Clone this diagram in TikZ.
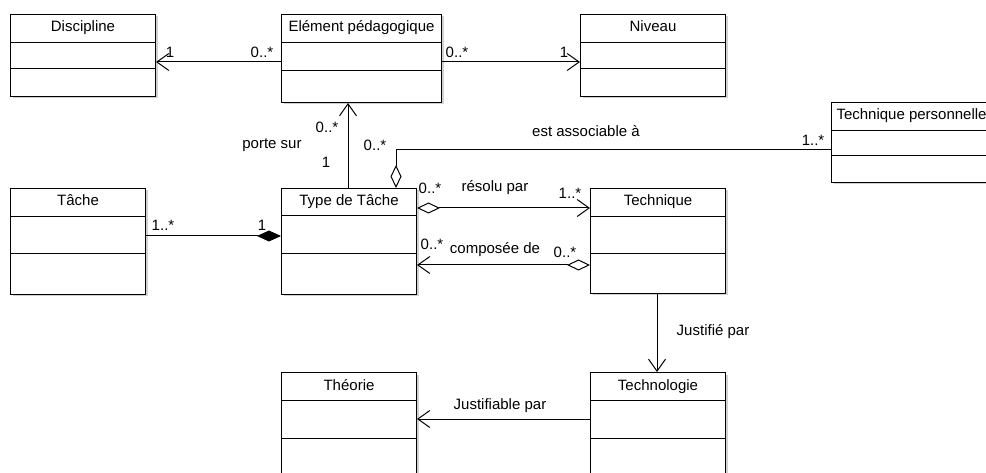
\documentclass[tikz,border=0pt]{standalone}
\usepackage{fontspec}
\setmainfont{Liberation Sans}
\usetikzlibrary{arrows.meta,shadows}

\begin{document}
\begin{tikzpicture}[x=1pt,y=-1pt,line width=1pt]
\tikzstyle{every node}+=[inner sep=0pt,font=\fontsize{15}{17}\selectfont]
\tikzstyle{classe}=[draw,fill=white,rectangle,anchor=north west,
  drop shadow={shadow xshift=2pt,shadow yshift=-2pt,fill=black,opacity=0.18}]
\tikzstyle{titre}=[anchor=base]
\tikzstyle{assoc}=[-{Straight Barb[length=12pt,width=17pt]}]
\tikzstyle{agreg}=[{Diamond[open,length=23pt,width=11pt]}-{Straight Barb[length=12pt,width=17pt]}]
\tikzstyle{compo}=[-{Diamond[length=24pt,width=11pt]}]
\useasboundingbox (0,0) rectangle (986,473);
\clip (0,0) rectangle (986,473);
% classes
\node[classe,minimum width=145pt,minimum height=82pt] (disc) at (10,14) {};
\node[titre] (disc-t) at ([yshift=-18pt]disc.north) {Discipline};
\draw ([yshift=-29pt]disc.north west) -- ([yshift=-29pt]disc.north east);
\draw ([yshift=-55pt]disc.north west) -- ([yshift=-55pt]disc.north east);
\node[classe,minimum width=160pt,minimum height=88pt] (ep) at (281,14) {};
\node[titre] (ep-t) at ([yshift=-18pt]ep.north) {Elément pédagogique};
\draw ([yshift=-29pt]ep.north west) -- ([yshift=-29pt]ep.north east);
\draw ([yshift=-57pt]ep.north west) -- ([yshift=-57pt]ep.north east);
\node[classe,minimum width=145pt,minimum height=82pt] (niv) at (580,14) {};
\node[titre] (niv-t) at ([yshift=-18pt]niv.north) {Niveau};
\draw ([yshift=-29pt]niv.north west) -- ([yshift=-29pt]niv.north east);
\draw ([yshift=-55pt]niv.north west) -- ([yshift=-55pt]niv.north east);
\node[classe,minimum width=175pt,minimum height=80pt] (tp) at (831,102) {};
\node[anchor=base west] (tp-t) at ([xshift=5pt,yshift=-18pt]tp.north west) {Technique personnelle};
\draw ([yshift=-29pt]tp.north west) -- ([yshift=-29pt]tp.north east);
\draw ([yshift=-54pt]tp.north west) -- ([yshift=-54pt]tp.north east);
\node[classe,minimum width=135pt,minimum height=106pt] (tache) at (10,188) {};
\node[titre] (tache-t) at ([yshift=-18pt]tache.north) {Tâche};
\draw ([yshift=-29pt]tache.north west) -- ([yshift=-29pt]tache.north east);
\draw ([yshift=-66pt]tache.north west) -- ([yshift=-66pt]tache.north east);
\node[classe,minimum width=135pt,minimum height=106pt] (tdt) at (281,188) {};
\node[titre] (tdt-t) at ([yshift=-18pt]tdt.north) {Type de Tâche};
\draw ([yshift=-28pt]tdt.north west) -- ([yshift=-28pt]tdt.north east);
\draw ([yshift=-66pt]tdt.north west) -- ([yshift=-66pt]tdt.north east);
\node[classe,minimum width=135pt,minimum height=105pt] (tech) at (590,188) {};
\node[titre] (tech-t) at ([yshift=-18pt]tech.north) {Technique};
\draw ([yshift=-29pt]tech.north west) -- ([yshift=-29pt]tech.north east);
\draw ([yshift=-66pt]tech.north west) -- ([yshift=-66pt]tech.north east);
\node[classe,minimum width=135pt,minimum height=110pt] (theo) at (281,372) {};
\node[titre] (theo-t) at ([yshift=-18pt]theo.north) {Théorie};
\draw ([yshift=-28pt]theo.north west) -- ([yshift=-28pt]theo.north east);
\draw ([yshift=-66pt]theo.north west) -- ([yshift=-66pt]theo.north east);
\node[classe,minimum width=135pt,minimum height=110pt] (techno) at (590,372) {};
\node[titre] (techno-t) at ([yshift=-18pt]techno.north) {Technologie};
\draw ([yshift=-28pt]techno.north west) -- ([yshift=-28pt]techno.north east);
\draw ([yshift=-66pt]techno.north west) -- ([yshift=-66pt]techno.north east);
% associations
\draw[assoc] ([yshift=-48pt]ep.north west) -- ([yshift=-48pt]disc.north east);
\node (m1) at (170,52) {1};
\node (m2) at (262,52) {0..*};
\draw[assoc] ([yshift=-48pt]ep.north east) -- ([yshift=-48pt]niv.north west);
\node (m3) at (457,52) {0..*};
\node (m4) at (564,52) {1};
\draw[assoc] ([xshift=67pt]tdt.north west) -- ([xshift=67pt]ep.south west);
\node (m5) at (327,127) {0..*};
\node (l1) at (272,145) {porte sur};
\node (m6) at (326,162) {1};
\draw[{Diamond[open,length=23pt,width=11pt]}-] ([xshift=115pt]tdt.north west) |- ([yshift=-48pt]tp.north west);
\node (m7) at (375,145) {0..*};
\node (l2) at (586,131) {est associable à};
\node (m8) at (813,140) {1..*};
\draw[compo] ([yshift=-48pt]tache.north east) -- ([yshift=-48pt]tdt.north west);
\node (m9) at (163,225) {1..*};
\node (m10) at (262,225) {1};
\draw[agreg] ([yshift=-20pt]tdt.north east) -- ([yshift=-20pt]tech.north west);
\node (m11) at (430,188) {0..*};
\node (l3) at (495,188) {résolu par};
\node (m12) at (570,193) {1..*};
\draw[agreg] ([yshift=-77pt]tech.north west) -- ([yshift=-77pt]tdt.north east);
\node (m13) at (432,244) {0..*};
\node (l4) at (495,250) {composée de};
\node (m14) at (565,252) {0..*};
\draw[assoc] ([xshift=67pt]tech.south west) -- ([xshift=67pt]techno.north west);
\node (l5) at (713,332) {Justifié par};
\draw[assoc] ([yshift=-47pt]techno.north west) -- ([yshift=-47pt]theo.north east);
\node (l6) at (500,406) {Justifiable par};
\end{tikzpicture}
\end{document}
